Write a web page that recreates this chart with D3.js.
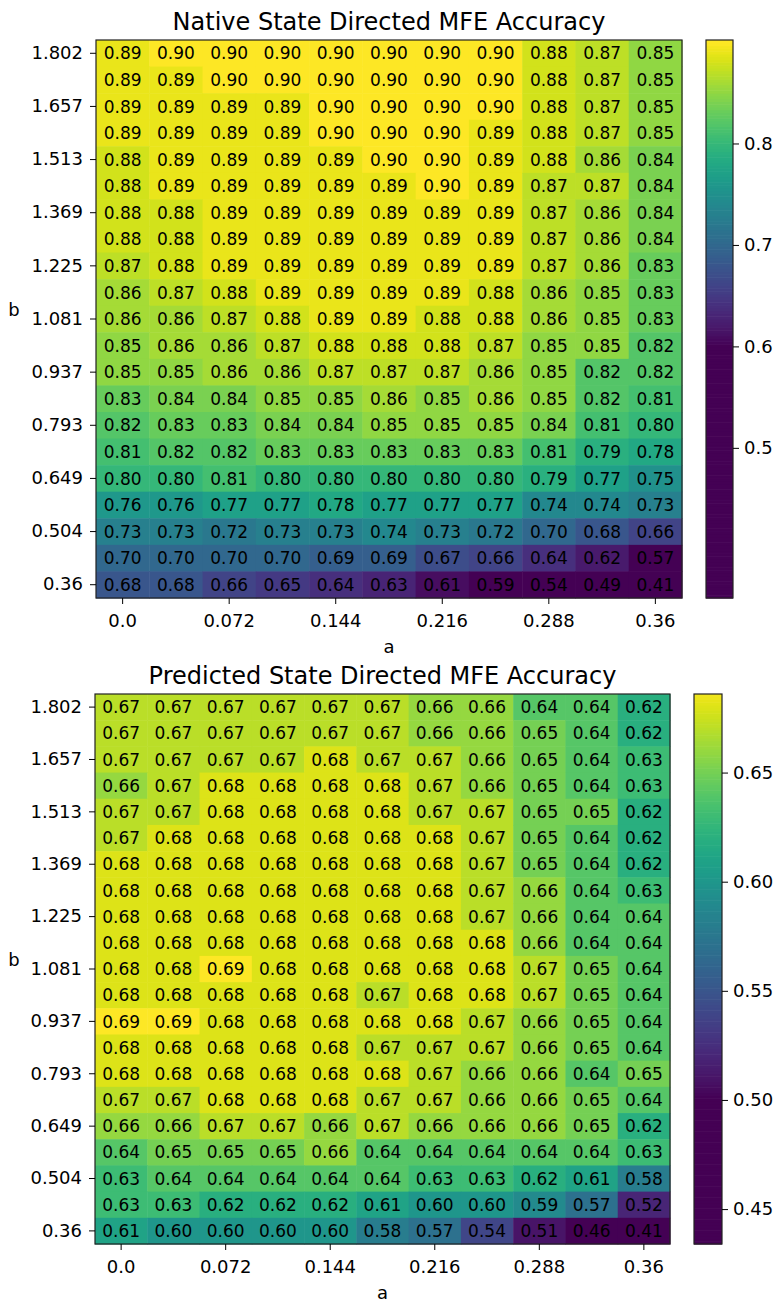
<!DOCTYPE html>
<html>
<head>
<meta charset="utf-8">
<script src="https://cdn.jsdelivr.net/npm/d3@7"></script>
<style>
  body { margin: 0; background: #fff; }
  svg text { font-family: "DejaVu Sans", sans-serif; fill: #000; }
</style>
</head>
<body>
<svg id="mainContainer"></svg>
<script>
// a values (columns) and b values (rows, listed from bottom to top)
var aValues = ["0.0", "0.036", "0.072", "0.108", "0.144", "0.18", "0.216", "0.252", "0.288", "0.324", "0.36"];
var bValues = ["0.36", "0.432", "0.504", "0.577", "0.649", "0.721", "0.793", "0.865", "0.937", "1.009",
               "1.081", "1.153", "1.225", "1.297", "1.369", "1.441", "1.513", "1.585", "1.657", "1.730", "1.802"];
var aTicks = ["0.0", "0.072", "0.144", "0.216", "0.288", "0.36"];
var bTicks = ["0.36", "0.504", "0.649", "0.793", "0.937", "1.081", "1.225", "1.369", "1.513", "1.657", "1.802"];

// rows from b = 1.802 (top) down to b = 0.36 (bottom)
var nativeAcc = [
  [0.89,0.90,0.90,0.90,0.90,0.90,0.90,0.90,0.88,0.87,0.85],
  [0.89,0.89,0.90,0.90,0.90,0.90,0.90,0.90,0.88,0.87,0.85],
  [0.89,0.89,0.89,0.89,0.90,0.90,0.90,0.90,0.88,0.87,0.85],
  [0.89,0.89,0.89,0.89,0.90,0.90,0.90,0.89,0.88,0.87,0.85],
  [0.88,0.89,0.89,0.89,0.89,0.90,0.90,0.89,0.88,0.86,0.84],
  [0.88,0.89,0.89,0.89,0.89,0.89,0.90,0.89,0.87,0.87,0.84],
  [0.88,0.88,0.89,0.89,0.89,0.89,0.89,0.89,0.87,0.86,0.84],
  [0.88,0.88,0.89,0.89,0.89,0.89,0.89,0.89,0.87,0.86,0.84],
  [0.87,0.88,0.89,0.89,0.89,0.89,0.89,0.89,0.87,0.86,0.83],
  [0.86,0.87,0.88,0.89,0.89,0.89,0.89,0.88,0.86,0.85,0.83],
  [0.86,0.86,0.87,0.88,0.89,0.89,0.88,0.88,0.86,0.85,0.83],
  [0.85,0.86,0.86,0.87,0.88,0.88,0.88,0.87,0.85,0.85,0.82],
  [0.85,0.85,0.86,0.86,0.87,0.87,0.87,0.86,0.85,0.82,0.82],
  [0.83,0.84,0.84,0.85,0.85,0.86,0.85,0.86,0.85,0.82,0.81],
  [0.82,0.83,0.83,0.84,0.84,0.85,0.85,0.85,0.84,0.81,0.80],
  [0.81,0.82,0.82,0.83,0.83,0.83,0.83,0.83,0.81,0.79,0.78],
  [0.80,0.80,0.81,0.80,0.80,0.80,0.80,0.80,0.79,0.77,0.75],
  [0.76,0.76,0.77,0.77,0.78,0.77,0.77,0.77,0.74,0.74,0.73],
  [0.73,0.73,0.72,0.73,0.73,0.74,0.73,0.72,0.70,0.68,0.66],
  [0.70,0.70,0.70,0.70,0.69,0.69,0.67,0.66,0.64,0.62,0.57],
  [0.68,0.68,0.66,0.65,0.64,0.63,0.61,0.59,0.54,0.49,0.41]
];

var predictedAcc = [
  [0.67,0.67,0.67,0.67,0.67,0.67,0.66,0.66,0.64,0.64,0.62],
  [0.67,0.67,0.67,0.67,0.67,0.67,0.66,0.66,0.65,0.64,0.62],
  [0.67,0.67,0.67,0.67,0.68,0.67,0.67,0.66,0.65,0.64,0.63],
  [0.66,0.67,0.68,0.68,0.68,0.68,0.67,0.66,0.65,0.64,0.63],
  [0.67,0.67,0.68,0.68,0.68,0.68,0.67,0.67,0.65,0.65,0.62],
  [0.67,0.68,0.68,0.68,0.68,0.68,0.68,0.67,0.65,0.64,0.62],
  [0.68,0.68,0.68,0.68,0.68,0.68,0.68,0.67,0.65,0.64,0.62],
  [0.68,0.68,0.68,0.68,0.68,0.68,0.68,0.67,0.66,0.64,0.63],
  [0.68,0.68,0.68,0.68,0.68,0.68,0.68,0.67,0.66,0.64,0.64],
  [0.68,0.68,0.68,0.68,0.68,0.68,0.68,0.68,0.66,0.64,0.64],
  [0.68,0.68,0.69,0.68,0.68,0.68,0.68,0.68,0.67,0.65,0.64],
  [0.68,0.68,0.68,0.68,0.68,0.67,0.68,0.68,0.67,0.65,0.64],
  [0.69,0.69,0.68,0.68,0.68,0.68,0.68,0.67,0.66,0.65,0.64],
  [0.68,0.68,0.68,0.68,0.68,0.67,0.67,0.67,0.66,0.65,0.64],
  [0.68,0.68,0.68,0.68,0.68,0.68,0.67,0.66,0.66,0.64,0.65],
  [0.67,0.67,0.68,0.68,0.68,0.67,0.67,0.66,0.66,0.65,0.64],
  [0.66,0.66,0.67,0.67,0.66,0.67,0.66,0.66,0.66,0.65,0.62],
  [0.64,0.65,0.65,0.65,0.66,0.64,0.64,0.64,0.64,0.64,0.63],
  [0.63,0.64,0.64,0.64,0.64,0.64,0.63,0.63,0.62,0.61,0.58],
  [0.63,0.63,0.62,0.62,0.62,0.61,0.60,0.60,0.59,0.57,0.52],
  [0.61,0.60,0.60,0.60,0.60,0.58,0.57,0.54,0.51,0.46,0.41]
];

var nativeBarTicks = [0.5, 0.6, 0.7, 0.8];
var predictedBarTicks = [0.45, 0.50, 0.55, 0.60, 0.65];

var svgWidth = 783;
var svgHeight = 1303;

var svg = d3.select('#mainContainer')
    .attr('width', svgWidth)
    .attr('height', svgHeight);

function drawHeatmap(opts) {
  var g = svg.append('g');

  var x = d3.scaleBand().domain(aValues).range([opts.x0, opts.x1]);
  var y = d3.scaleBand().domain(bValues.slice().reverse()).range([opts.y0, opts.y1]);

  var color = d3.scaleSequential(d3.interpolateViridis)
      .domain(opts.colorDomain)
      .clamp(true);

  var cells = [];
  opts.data.forEach(function(row, i) {
    row.forEach(function(v, j) {
      cells.push({a: aValues[j], b: bValues[bValues.length - 1 - i], v: v});
    });
  });

  g.selectAll('.cell')
    .data(cells)
    .enter()
    .append('rect')
    .attr('class', 'cell')
    .attr('x', function(d){ return x(d.a); })
    .attr('y', function(d){ return y(d.b); })
    .attr('width', x.bandwidth() + 0.5)
    .attr('height', y.bandwidth() + 0.5)
    .attr('fill', function(d){ return color(d.v); });

  g.selectAll('.cellText')
    .data(cells)
    .enter()
    .append('text')
    .attr('class', 'cellText')
    .attr('x', function(d){ return x(d.a) + x.bandwidth() / 2; })
    .attr('y', function(d){ return y(d.b) + y.bandwidth() / 2; })
    .attr('text-anchor', 'middle')
    .attr('dy', '0.36em')
    .style('font-size', '17px')
    .text(function(d){ return d.v.toFixed(2); });

  // frame
  g.append('rect')
    .attr('x', opts.x0).attr('y', opts.y0)
    .attr('width', opts.x1 - opts.x0).attr('height', opts.y1 - opts.y0)
    .attr('fill', 'none').attr('stroke', '#222').attr('stroke-width', 1.2);

  var xAxis = d3.axisBottom(x).tickValues(aTicks).tickSize(6).tickPadding(10);
  var xg = g.append('g')
    .attr('transform', 'translate(0,' + opts.y1 + ')')
    .call(xAxis);
  xg.select('.domain').remove();
  xg.selectAll('text').style('font-size', '18px');

  var yAxis = d3.axisLeft(y).tickValues(bTicks).tickSize(6).tickPadding(7);
  var yg = g.append('g')
    .attr('transform', 'translate(' + opts.x0 + ',0)')
    .call(yAxis);
  yg.select('.domain').remove();
  yg.selectAll('text').style('font-size', '18px');

  g.append('text')
    .attr('x', (opts.x0 + opts.x1) / 2)
    .attr('y', opts.y0 - 10)
    .attr('text-anchor', 'middle')
    .style('font-size', '24px')
    .text(opts.title);

  g.append('text')
    .attr('x', (opts.x0 + opts.x1) / 2)
    .attr('y', opts.y1 + 55)
    .attr('text-anchor', 'middle')
    .style('font-size', '18px')
    .text('a');

  g.append('text')
    .attr('x', 14)
    .attr('y', (opts.y0 + opts.y1) / 2 - 3)
    .attr('text-anchor', 'middle')
    .style('font-size', '18px')
    .text('b');

  // colorbar
  var cb = d3.scaleLinear().domain(opts.barDomain).range([opts.y1, opts.y0]);
  var steps = d3.range(0, 200);
  var stepH = (opts.y1 - opts.y0) / steps.length;
  g.selectAll('.cbStep')
    .data(steps)
    .enter()
    .append('rect')
    .attr('class', 'cbStep')
    .attr('x', opts.cbX)
    .attr('y', function(d){ return opts.y1 - (d + 1) * stepH; })
    .attr('width', opts.cbW)
    .attr('height', stepH + 0.6)
    .attr('fill', function(d){ return color(cb.invert(opts.y1 - (d + 0.5) * stepH)); });

  g.append('rect')
    .attr('x', opts.cbX).attr('y', opts.y0)
    .attr('width', opts.cbW).attr('height', opts.y1 - opts.y0)
    .attr('fill', 'none').attr('stroke', '#222').attr('stroke-width', 1.2);

  var cbAxis = d3.axisRight(cb).tickValues(opts.barTicks).tickSize(6).tickPadding(5)
      .tickFormat(opts.barFormat);
  var cg = g.append('g')
    .attr('transform', 'translate(' + (opts.cbX + opts.cbW) + ',0)')
    .call(cbAxis);
  cg.select('.domain').remove();
  cg.selectAll('text').style('font-size', '18px');
}

drawHeatmap({
  title: 'Native State Directed MFE Accuracy',
  data: nativeAcc,
  x0: 96, x1: 682, y0: 40, y1: 598,
  colorDomain: [0.60, 0.90],
  barDomain: [0.352, 0.902],
  barTicks: nativeBarTicks,
  barFormat: d3.format('.1f'),
  cbX: 706, cbW: 27
});

drawHeatmap({
  title: 'Predicted State Directed MFE Accuracy',
  data: predictedAcc,
  x0: 95, x1: 670, y0: 694, y1: 1244,
  colorDomain: [0.50, 0.69],
  barDomain: [0.434, 0.686],
  barTicks: predictedBarTicks,
  barFormat: d3.format('.2f'),
  cbX: 694, cbW: 28
});
</script>
</body>
</html>
